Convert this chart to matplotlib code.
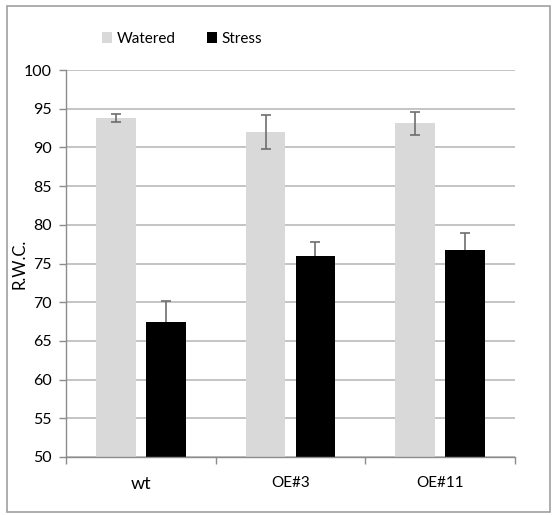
import matplotlib
matplotlib.use("Agg")
import matplotlib.pyplot as plt
import numpy as np
from matplotlib.patches import Rectangle

categories = ["wt", "OE#3", "OE#11"]
watered = [93.8, 92.0, 93.1]
watered_err = [0.5, 2.2, 1.5]
stress = [67.4, 76.0, 76.7]
stress_err = [2.8, 1.8, 2.2]
y_ticks = [50, 55, 60, 65, 70, 75, 80, 85, 90, 95, 100]

plt.rcParams['font.family'] = ['Lato', 'DejaVu Sans']

fig = plt.figure(figsize=(5.56, 5.15), dpi=100)
ax_left, ax_right, ax_top, ax_bottom = 66, 515, 70, 457
ax = fig.add_axes([ax_left / 556, 1 - ax_bottom / 515,
                   (ax_right - ax_left) / 556, (ax_bottom - ax_top) / 515])

x = np.arange(len(categories))
w = 0.265
off = 0.166
grid_c = "#bfbfbf"
axis_c = "#8c8c8c"

ax.bar(x - off, watered, w, color="#d9d9d9", zorder=2, label="Watered")
ax.bar(x + off, stress, w, color="black", zorder=2, label="Stress")
ax.errorbar(x - off, watered, yerr=watered_err, fmt="none", ecolor="#6e6e6e",
            elinewidth=1.2, capsize=3.5, capthick=1.2, zorder=3)
# stress error bars sit behind the black bars so only the upper arm shows
ax.errorbar(x + off, stress, yerr=stress_err, fmt="none",
            ecolor="#6e6e6e", elinewidth=1.2, capsize=3.5, capthick=1.2, zorder=1.9)

ax.set_ylim(50, 100)
ax.set_xlim(-0.5, len(categories) - 0.5)
ax.set_yticks(y_ticks)
ax.set_yticklabels([str(v) for v in y_ticks], fontsize=11.5)
ax.yaxis.grid(True, color=grid_c, linewidth=1.3, zorder=0)
ax.set_axisbelow(True)

ax.set_xticks(np.arange(-0.5, len(categories), 1.0))
ax.set_xticklabels([])
ax.set_xticks(x, minor=True)
ax.set_xticklabels(categories, minor=True)
for lbl, fs in zip(ax.get_xticklabels(minor=True), [13, 11, 11]):
    lbl.set_fontsize(fs)
ax.tick_params(axis="x", which="minor", length=0, pad=14)
ax.tick_params(axis="x", which="major", length=5, color=axis_c, width=1)
ax.tick_params(axis="y", length=5, color=axis_c, width=1, pad=5)

for s in ["top", "right"]:
    ax.spines[s].set_visible(False)
for s in ["left", "bottom"]:
    ax.spines[s].set_color(axis_c)
    ax.spines[s].set_linewidth(1)

ax.set_ylabel("R.W.C.", fontsize=12)
ax.yaxis.set_label_coords((28 - ax_left) / (ax_right - ax_left), 0.5)

fig.legend(loc="upper left", bbox_to_anchor=(88 / 556, 1 - 18 / 515), ncol=2,
           frameon=False, fontsize=11, handlelength=0.7, handleheight=0.7,
           handletextpad=0.3, columnspacing=2.0)

fig.patches.append(Rectangle((7 / 556, 3 / 515), (550 - 7) / 556, (509 - 3) / 515,
                             transform=fig.transFigure, fill=False,
                             edgecolor="#a0a0a0", linewidth=1.2))

fig.savefig("out.png", dpi=100)
